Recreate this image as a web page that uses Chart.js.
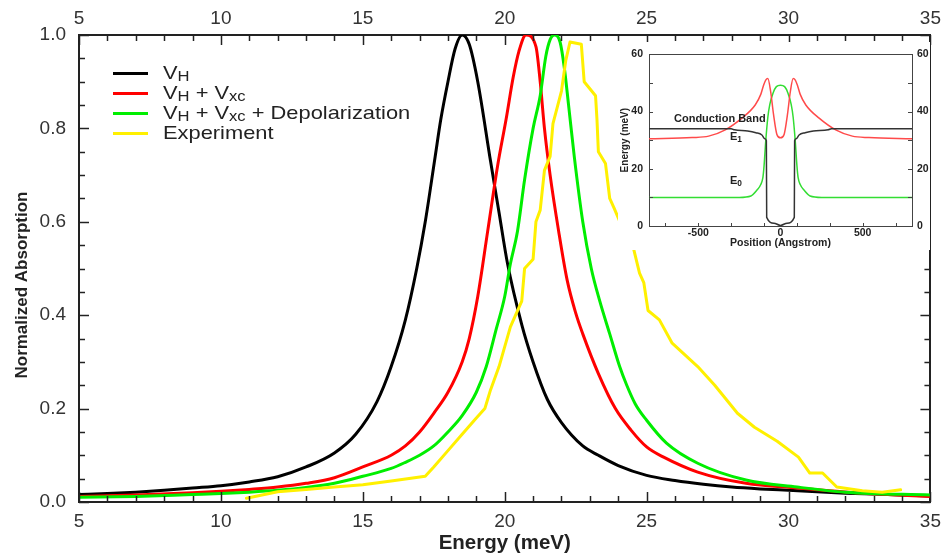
<!DOCTYPE html>
<html><head><meta charset="utf-8">
<script src="https://cdn.jsdelivr.net/npm/chart.js@4.4.1/dist/chart.umd.min.js"></script>
<style>
html,body{margin:0;padding:0;background:#fff;}
#wrap{position:relative;width:949px;height:558px;overflow:hidden;background:#fff;}
#main{position:absolute;left:0;top:0;}
#inset{position:absolute;left:618px;top:42px;background:#fff;}
.legrow{position:absolute;left:113px;height:20px;width:360px;}
.sw{position:absolute;left:0;top:9px;height:3px;width:35px;}
.legtxt{position:absolute;left:50px;top:0;font-family:"Liberation Sans",Arial,sans-serif;font-size:19px;line-height:20px;color:#222;white-space:nowrap;transform:scaleX(1.15);transform-origin:0 50%;}
.lbl{position:absolute;font-family:"Liberation Sans",Arial,sans-serif;font-weight:bold;font-size:11px;line-height:12px;color:#222;white-space:nowrap;}
sub{font-size:76%;vertical-align:-2px;line-height:0;}
</style></head>
<body>
<div id="wrap">
<canvas id="main" width="949" height="558"></canvas>
<div id="legend"></div>
<canvas id="inset" width="312" height="208"></canvas>
<div id="insetLabels"></div>
</div>
<script>
// ---------- main chart data ----------
const seriesNames = ['V<sub>H</sub>', 'V<sub>H</sub> + V<sub>xc</sub>', 'V<sub>H</sub> + V<sub>xc</sub> + Depolarization', 'Experiment'];
const seriesPlain = ['VH', 'VH + Vxc', 'VH + Vxc + Depolarization', 'Experiment'];
const seriesColors = ['#000000', '#ff0000', '#00ee00', '#fff000'];

const vhEnergy = [5,6,7,8,9,10,11,12,13,14,14.75,15.5,16,16.5,16.9,17.2,17.55,17.75,18,18.25,18.5,18.75,19.05,19.5,19.8,20.1,20.6,21,21.5,22,22.75,23.3,24,25,26,27,28,29,30,31,32,33,34,35];
const vhAbs    = [0.016,0.018,0.021,0.025,0.03,0.035,0.043,0.054,0.075,0.105,0.145,0.215,0.29,0.39,0.5,0.6,0.74,0.82,0.9,0.97,1.0,0.98,0.9,0.73,0.62,0.51,0.38,0.3,0.22,0.17,0.12,0.1,0.078,0.057,0.046,0.038,0.032,0.028,0.025,0.022,0.019,0.017,0.015,0.013];

const vhxcEnergy = [5,7,9,10,11,12,13,14,15,16,16.5,17,17.5,18,18.5,18.75,19.05,19.4,19.75,20.05,20.3,20.5,20.75,21.1,21.25,21.4,21.6,21.9,22.2,22.5,22.75,23.3,23.9,24.45,25,25.6,26.8,28.5,30.3,32.1,33.8,35];
const vhxcAbs    = [0.012,0.015,0.02,0.023,0.027,0.032,0.04,0.052,0.075,0.1,0.12,0.15,0.19,0.235,0.3,0.35,0.44,0.58,0.72,0.82,0.91,0.965,1.0,0.975,0.9,0.8,0.7,0.58,0.475,0.405,0.36,0.275,0.2,0.154,0.118,0.096,0.064,0.04,0.03,0.021,0.015,0.012];

const depolEnergy = [5,7,9,10,11,12,13,14,15,16,16.5,17,17.5,18,18.5,19,19.35,19.7,20,20.2,20.45,20.7,21,21.25,21.45,21.6,21.75,21.95,22.1,22.25,22.45,22.75,23.05,23.35,23.7,24.05,24.3,24.6,25,25.7,26.8,28.5,30.3,32,35];
const depolAbs    = [0.01,0.012,0.016,0.018,0.021,0.025,0.031,0.04,0.055,0.072,0.085,0.1,0.12,0.15,0.185,0.235,0.29,0.37,0.44,0.51,0.58,0.69,0.8,0.87,0.955,0.99,1.0,0.985,0.93,0.85,0.74,0.6,0.5,0.43,0.36,0.29,0.25,0.21,0.175,0.126,0.083,0.047,0.032,0.021,0.015];

const exptEnergy = [10.9,12,13,14,15,16,17.2,17.5,18,18.5,19,19.3,19.4,19.5,19.8,20.2,20.6,20.7,21.0,21.1,21.25,21.4,21.6,21.7,22.0,22.15,22.3,22.7,22.8,23.2,23.25,23.3,23.55,23.7,23.85,24.2,24.55,24.75,24.9,25.05,25.45,25.9,26.8,27.4,28.2,28.8,29.6,30.35,30.75,31.2,31.7,32.6,33.3,33.95];
const exptAbs    = [0.008,0.022,0.027,0.032,0.037,0.045,0.055,0.075,0.11,0.145,0.18,0.2,0.22,0.24,0.29,0.375,0.43,0.5,0.52,0.6,0.625,0.71,0.74,0.81,0.88,0.945,0.985,0.98,0.9,0.87,0.82,0.75,0.725,0.65,0.63,0.58,0.54,0.49,0.47,0.41,0.39,0.34,0.29,0.25,0.19,0.16,0.13,0.096,0.062,0.062,0.032,0.024,0.021,0.026];

const energyTicks = [5,10,15,20,25,30,35];
const absTicks = [0,0.2,0.4,0.6,0.8,1.0];

// ---------- inset data ----------
const cbPos = [-800,-300,-280,-200,-150,-113,-95,-86,-84,-40,0,40,84,86,95,113,150,200,290,310,800];
const cbE   = [34,34,33.6,33.2,32.6,31.8,30.5,29.8,3,1,0.2,1,3,29.8,30.5,31.8,32.6,33.2,33.6,34,34];
const e1Pos = [-800,-538,-437,-336,-235,-154,-120,-103,-90,-77,-60,-42,-22,0,22,42,60,77,90,103,120,154,235,336,437,538,800];
const e1E   = [30.5,30.9,31.4,33.6,37.7,42.3,46,49.2,51,51.5,47,38.8,32,30.8,32,38.8,47,51.5,51,49.2,46,42.3,37.7,33.6,31.4,30.9,30.5];
const e0Pos = [-800,-250,-180,-144,-120,-107,-100,-90,-77,-65,-45,-25,0,25,45,65,77,90,100,107,120,144,180,250,800];
const e0E   = [10,10,10.5,12.5,14.5,17,21,29.5,38,42.5,46.5,48.7,49.2,48.7,46.5,42.5,38,29.5,21,17,14.5,12.5,10.5,10,10];
const insetColors = ['#333333', '#ff4a4a', '#33dd33'];
const posTicks = [-500,0,500];
const insetETicks = [0,20,40,60];

// ---------- helpers ----------
const pts = (xs, ys) => xs.map((x, i) => ({x: x, y: ys[i]}));
Chart.defaults.font.family = '"Liberation Sans", Arial, sans-serif';

const inwardTicks = {
  id: 'inwardTicks',
  afterDatasetsDraw(chart, args, opts) {
    const ctx = chart.ctx;
    const {top, bottom, left, right} = chart.chartArea;
    ctx.save();
    ctx.strokeStyle = opts.color || '#222';
    ctx.lineWidth = opts.width || 1.5;
    (opts.axes || []).forEach(a => {
      const s = chart.scales[a.id];
      const n = Math.round((a.end - a.start) / a.step);
      for (let k = 0; k <= n; k++) {
        const v = a.start + k * a.step;
        const r = a.majorEvery ? v / a.majorEvery : 0.5;
        const major = a.majorEvery && Math.abs(r - Math.round(r)) < 1e-6;
        const len = major ? a.major : a.minor;
        const p = Math.round(s.getPixelForValue(v)) + 0.5;
        ctx.beginPath();
        if (s.position === 'bottom') { ctx.moveTo(p, bottom); ctx.lineTo(p, bottom - len); }
        else if (s.position === 'top') { ctx.moveTo(p, top); ctx.lineTo(p, top + len); }
        else if (s.position === 'left') { ctx.moveTo(left, p); ctx.lineTo(left + len, p); }
        else { ctx.moveTo(right, p); ctx.lineTo(right - len, p); }
        ctx.stroke();
      }
    });
    ctx.restore();
  }
};

const setTicks = arr => (s => { s.ticks = arr.map(v => ({value: v})); });

// ---------- main chart ----------
const tickFont = {size: 19};
const borderOpt = {display: true, color: '#222', width: 2};
const noGrid = {display: true, drawOnChartArea: false, drawTicks: false};
const smooth = {cubicInterpolationMode: 'monotone'};

new Chart(document.getElementById('main'), {
  type: 'line',
  data: {
    datasets: [
      {label: seriesPlain[3], data: pts(exptEnergy, exptAbs), borderColor: seriesColors[3], order: 0},
      Object.assign({label: seriesPlain[2], data: pts(depolEnergy, depolAbs), borderColor: seriesColors[2], order: 1}, smooth),
      Object.assign({label: seriesPlain[1], data: pts(vhxcEnergy, vhxcAbs), borderColor: seriesColors[1], order: 2}, smooth),
      Object.assign({label: seriesPlain[0], data: pts(vhEnergy, vhAbs), borderColor: seriesColors[0], order: 3}, smooth)
    ]
  },
  options: {
    responsive: false, animation: false,
    layout: {padding: 0},
    elements: {point: {radius: 0}, line: {tension: 0, borderWidth: 3, borderJoinStyle: 'round', borderCapStyle: 'round'}},
    plugins: {
      legend: {display: false}, tooltip: {enabled: false},
      inwardTicks: {color: '#222', width: 1.5, axes: [
        {id: 'x', start: 5, end: 35, step: 1, majorEvery: 5, minor: 6, major: 10},
        {id: 'xTop', start: 5, end: 35, step: 1, majorEvery: 5, minor: 6, major: 10},
        {id: 'y', start: 0, end: 1, step: 0.05, majorEvery: 0.2, minor: 6, major: 10},
        {id: 'yRight', start: 0, end: 1, step: 0.05, majorEvery: 0.2, minor: 6, major: 10}
      ]}
    },
    scales: {
      x: {type: 'linear', position: 'bottom', min: 5, max: 35,
          afterBuildTicks: setTicks(energyTicks),
          afterFit: s => { s.height = 56; },
          grid: noGrid, border: borderOpt,
          ticks: {font: tickFont, color: '#333', padding: 8, maxRotation: 0, autoSkip: false},
          title: {display: true, text: 'Energy (meV)', color: '#222', font: {size: 20.5, weight: 'bold'}, padding: {top: 0, bottom: 2}}},
      xTop: {type: 'linear', position: 'top', min: 5, max: 35,
          afterBuildTicks: setTicks(energyTicks),
          afterFit: s => { s.height = 35; },
          grid: noGrid, border: borderOpt,
          ticks: {font: tickFont, color: '#333', padding: 5, maxRotation: 0, autoSkip: false}},
      y: {type: 'linear', position: 'left', min: 0, max: 1,
          afterBuildTicks: setTicks(absTicks),
          afterFit: s => { s.width = 79; },
          grid: noGrid, border: borderOpt,
          ticks: {font: tickFont, color: '#333', padding: 13, callback: v => Number(v).toFixed(1)},
          title: {display: true, text: 'Normalized Absorption\u00a0\u00a0\u00a0\u00a0\u00a0\u00a0\u00a0', color: '#222', font: {size: 17, weight: 'bold'}, padding: {top: 12, bottom: 0}}},
      yRight: {type: 'linear', position: 'right', min: 0, max: 1,
          afterFit: s => { s.width = 13; },
          grid: noGrid, border: borderOpt,
          ticks: {display: false}}
    }
  },
  plugins: [inwardTicks]
});

// legend (HTML, for subscripts)
const legendEl = document.getElementById('legend');
seriesNames.forEach((name, i) => {
  const row = document.createElement('div');
  row.className = 'legrow';
  row.style.top = (63 + 20 * i) + 'px';
  row.innerHTML = '<div class="sw" style="background:' + seriesColors[i] + '"></div><div class="legtxt">' + name + '</div>';
  legendEl.appendChild(row);
});

// ---------- inset chart ----------
const insetFont = {size: 10.5, weight: 'bold'};
const insetBorder = {display: true, color: '#444', width: 1};
new Chart(document.getElementById('inset'), {
  type: 'line',
  data: {
    datasets: [
      Object.assign({label: 'Conduction Band', data: pts(cbPos, cbE), borderColor: insetColors[0]}, smooth),
      Object.assign({label: 'E1', data: pts(e1Pos, e1E), borderColor: insetColors[1]}, smooth),
      Object.assign({label: 'E0', data: pts(e0Pos, e0E), borderColor: insetColors[2]}, smooth)
    ]
  },
  options: {
    responsive: false, animation: false,
    layout: {padding: 0},
    elements: {point: {radius: 0}, line: {tension: 0, borderWidth: 1.5}},
    plugins: {
      legend: {display: false}, tooltip: {enabled: false},
      inwardTicks: {color: '#444', width: 1, axes: [
        {id: 'x', start: -700, end: 700, step: 200, minor: 3, major: 3},
        {id: 'y', start: 0, end: 60, step: 10, minor: 4, major: 4},
        {id: 'yRight', start: 0, end: 60, step: 10, minor: 4, major: 4}
      ]}
    },
    scales: {
      x: {type: 'linear', position: 'bottom', min: -800, max: 800,
          afterBuildTicks: setTicks(posTicks),
          afterFit: s => { s.height = 24; },
          grid: noGrid, border: insetBorder,
          ticks: {font: insetFont, color: '#222', padding: 1, maxRotation: 0, autoSkip: false},
          title: {display: true, text: 'Position (Angstrom)', color: '#222', font: insetFont, padding: {top: 0, bottom: 1}}},
      xTop: {type: 'linear', position: 'top', min: -800, max: 800,
          afterFit: s => { s.height = 10; },
          grid: noGrid, border: insetBorder, ticks: {display: false}},
      y: {type: 'linear', position: 'left', min: 0, max: 60,
          afterBuildTicks: setTicks(insetETicks),
          afterFit: s => { s.width = 31; },
          grid: noGrid, border: insetBorder,
          ticks: {font: insetFont, color: '#222', padding: 6},
          title: {display: true, text: 'Energy (meV)', color: '#222', font: {size: 10, weight: 'bold'}, padding: {top: 1, bottom: 0}}},
      yRight: {type: 'linear', position: 'right', min: 0, max: 60,
          afterBuildTicks: setTicks(insetETicks),
          afterFit: s => { s.width = 18; },
          grid: noGrid, border: insetBorder,
          ticks: {font: insetFont, color: '#222', padding: 5}}
    }
  },
  plugins: [inwardTicks]
});

// inset annotations
const insetLabelsEl = document.getElementById('insetLabels');
[
  {html: 'Conduction Band', left: 674, top: 112},
  {html: 'E<sub>1</sub>', left: 730, top: 130},
  {html: 'E<sub>0</sub>', left: 730, top: 174}
].forEach(l => {
  const d = document.createElement('div');
  d.className = 'lbl';
  d.style.left = l.left + 'px';
  d.style.top = l.top + 'px';
  d.innerHTML = l.html;
  insetLabelsEl.appendChild(d);
});
</script>
</body></html>
